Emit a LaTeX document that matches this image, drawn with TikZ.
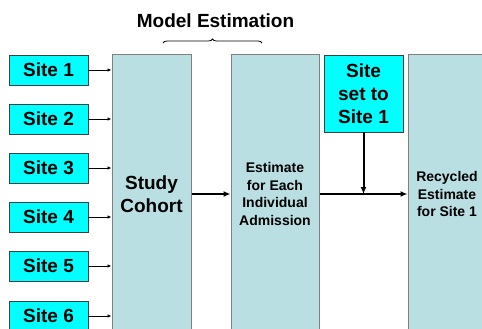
\documentclass[tikz,border=0pt]{standalone}
\usepackage{fontspec}
\setmainfont{Liberation Sans}
\usetikzlibrary{arrows.meta,calc,positioning,decorations.pathreplacing}
\definecolor{sitecyan}{RGB}{0,255,255}
\definecolor{stagefill}{RGB}{185,223,226}
\tikzset{
    -Latex,semithick,
    site/.style ={rectangle, draw=black!75, fill=sitecyan, line width=0.8pt, minimum width=79pt, minimum height=30pt, inner sep=0pt, font=\fontsize{19}{23}\selectfont\bfseries},
    stage/.style ={rectangle, draw=black!50, fill=stagefill, line width=1pt, minimum height=278pt, inner sep=0pt, align=center},
    thin/.style={line width=0.8pt, -{Latex[length=4pt,width=3.5pt]}},
    thick/.style={line width=2pt, -{Latex[length=7pt,width=6pt]}}
}

\begin{document}
\begin{tikzpicture}[x=1pt,y=-1pt]
      \useasboundingbox (0,0) rectangle (482,329);
      \clip (0,0) rectangle (482,329);

      \node[site] (s1) at (48.5,70) {Site 1};
      \node[site] (s2) at (48.5,119) {Site 2};
      \node[site] (s3) at (48.5,168) {Site 3};
      \node[site] (s4) at (48.5,217) {Site 4};
      \node[site] (s5) at (48.5,266) {Site 5};
      \node[site] (s6) at (48.5,316) {Site 6};

      \node[stage,minimum width=79pt,font=\fontsize{19}{23}\selectfont\bfseries] (cohort) at (151.5,194) {Study\\Cohort};
      \node[stage,minimum width=88pt,font=\fontsize{14}{17.5}\selectfont\bfseries] (est) at (275,194) {Estimate\\for Each\\Individual\\Admission};
      \node[stage,minimum width=78pt,font=\fontsize{14}{17.5}\selectfont\bfseries] (recyc) at (447,194) {Recycled\\Estimate\\for Site 1};
      \node[site,minimum height=77pt,align=center] (siteset) at (363.5,93.5) {Site\\set to\\Site 1};

      \node[anchor=base,font=\fontsize{19}{23}\selectfont\bfseries] (title) at (215.5,28) {Model Estimation};
      \draw[-,line width=0.8pt,decorate,decoration={brace,amplitude=4pt}] (163,43) -- (262,43);

      \foreach \i in {1,...,6}
        \path (s\i.east) edge[thin] (cohort.west |- s\i.east);

      \coordinate (join) at (siteset.south |- est.east);
      \path (cohort.east) edge[thick] (est.west);
      \path (siteset.south) edge[thick] (join);
      \path (est.east) edge[thick] (recyc.west);
\end{tikzpicture}
\end{document}
